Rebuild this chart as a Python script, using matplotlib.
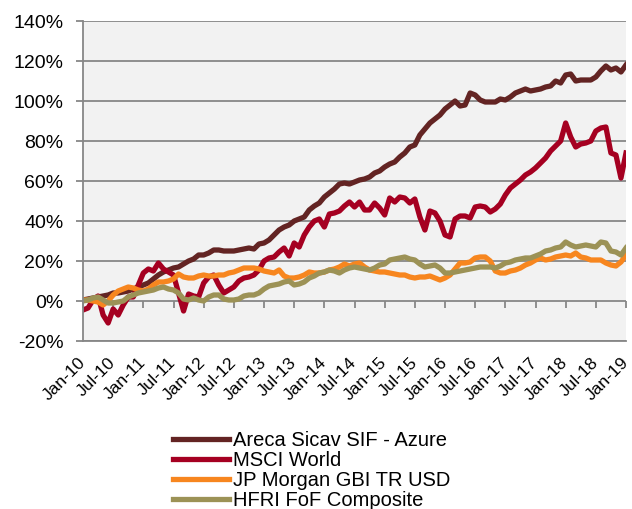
import matplotlib
matplotlib.use("Agg")
import matplotlib.pyplot as plt
from matplotlib.ticker import MultipleLocator, FuncFormatter

# monthly cumulative performance, Jan-10 .. Jan-19 (%)
areca = [0.5, 1, 1.5, 2, 2.5, 3, 4, 4, 4.5, 5, 6, 7,
         8, 9, 11, 13, 14.5, 15.5, 16.5, 17, 18.5, 20, 21, 23,
         23, 24, 25.5, 25.5, 25, 25, 25, 25.5, 26, 26.5, 26, 28.5,
         29, 30.5, 33, 35.5, 37, 38, 40, 41, 42, 45.5, 47.5, 49,
         52, 54, 56, 58.5, 59, 58.5, 59.5, 60.5, 61, 62, 64, 65,
         67, 68.5, 69.5, 72, 74, 77, 78, 83, 86, 89, 91, 93,
         96, 98, 100, 97.5, 98, 104, 103, 100.5, 99.5, 99.5, 99.5, 101,
         100.5, 102, 104, 105, 106, 105, 105.5, 106, 107, 107.5, 110, 109,
         113, 113.5, 110, 110.5, 110.5, 110.5, 112, 115, 117.5, 115.5, 116.5, 114.5,
         118]
msci = [-4.5, -3.5, 0.5, 2.5, -7, -11, -4, -7, -2, 2, 2, 8,
        14, 16, 15, 19, 16, 14.5, 13, 4, -5, 3.5, 2.5, 2,
        9, 12, 13, 8, 4, 5.5, 7, 10, 11.5, 12, 13, 15.5,
        20, 21.5, 22, 24.5, 26.5, 22.5, 29, 27, 33, 37, 40, 41,
        37, 43.5, 44, 45, 47.5, 49.5, 47, 49.5, 45.5, 45.5, 49, 46.5,
        43, 51.5, 49.5, 52, 51.5, 49, 51, 42, 35.5, 45, 44, 40,
        33, 32, 41, 42.5, 42.5, 41.5, 47, 47.5, 47, 44.5, 46, 48.5,
        53, 56.5, 58.5, 60.5, 63, 64.5, 66.5, 69, 71.5, 75, 77.5, 80,
        89, 82, 77, 78.5, 79, 80, 85, 86.5, 87, 74, 73, 61.5,
        74]
jpm = [0.5, 0.5, 0, -0.5, -2, 0, 3, 5, 6, 7, 6.5, 5.5,
       5, 6, 8, 9.5, 9.5, 10, 11, 13.5, 12, 11.5, 11.5, 12.5,
       13, 12.5, 12.5, 13, 13, 14, 14.5, 15.5, 16.5, 16.5, 16.5, 16,
       15, 14.5, 14, 15.5, 12.5, 11.5, 11.5, 12, 13, 14.5, 14, 14,
       14.5, 15.5, 16, 17, 18.5, 17.5, 18.5, 19, 17, 15.5, 15, 14.5,
       14.5, 14, 13.5, 13, 13, 12, 11.5, 12, 12, 12.5, 11.5, 10.5,
       11.5, 13, 16, 19, 19, 19.5, 21.5, 22, 22, 20, 15, 14,
       14, 15, 15.5, 16.5, 18, 19, 20.5, 21.5, 20.5, 21, 22, 22.5,
       23, 22.5, 24, 22, 21.5, 20.5, 20.5, 20.5, 19, 18, 17.5, 19.5,
       23]
hfri = [0, 0.5, 1.5, 2, 0.5, -1, -1, -0.5, 0, 2, 3, 4,
        4.5, 5, 5.5, 6.5, 7, 6, 5.5, 4, 1, 0.5, 1.5, 0.5,
        0, 2, 3, 3, 1, 0.5, 0.5, 1, 2.5, 3, 3, 4,
        6, 7.5, 8, 8.5, 9.5, 10, 8, 8.5, 9.5, 11.5, 12.5, 14,
        14.5, 15.5, 15, 14, 15.5, 16.5, 17, 16.5, 16, 15.5, 16.5, 18,
        18.5, 20.5, 21, 21.5, 22, 21, 20.5, 18.5, 17, 17.5, 18, 16.5,
        14, 14, 14.5, 15, 15.5, 16, 16.5, 17, 17, 17, 16.5, 17.5,
        19, 19.5, 20.5, 21, 21.5, 21.5, 22.5, 23.5, 25, 25.5, 26.5, 27,
        29.5, 28, 27, 27.5, 28, 27.5, 27, 29.5, 29, 25, 24.5, 23,
        26.5]

tick_labels = ["Jan-10", "Jul-10", "Jan-11", "Jul-11", "Jan-12", "Jul-12",
               "Jan-13", "Jul-13", "Jan-14", "Jul-14", "Jan-15", "Jul-15",
               "Jan-16", "Jul-16", "Jan-17", "Jul-17", "Jan-18", "Jul-18", "Jan-19"]

names = ["Areca Sicav SIF - Azure", "MSCI World", "JP Morgan GBI TR USD", "HFRI FoF Composite"]
colors = ["#632423", "#a50021", "#f7861f", "#9c9256"]

plt.rcParams['font.family'] = ['Liberation Sans', 'DejaVu Sans']

fig = plt.figure(figsize=(6.32, 5.09), dpi=100)
ax = fig.add_axes([83 / 632, 1 - 341 / 509, 543 / 632, 320 / 509])
ax.set_facecolor("#f2f2f2")

months = list(range(len(areca)))
for series, name, col in zip([areca, msci, jpm, hfri], names, colors):
    ax.plot(months, series, color=col, lw=3.8, label=name, solid_joinstyle="round")

ax.set_ylim(-20, 140)
ax.set_xlim(0, 108)
ax.yaxis.set_major_locator(MultipleLocator(20))
ax.yaxis.set_major_formatter(FuncFormatter(lambda v, p: f"{v:.0f}%"))
ax.grid(axis="y", color="#878787", lw=1.3)
ax.set_axisbelow(True)

for s in ["top", "right"]:
    ax.spines[s].set_visible(False)
for s in ["left", "bottom"]:
    ax.spines[s].set_color("#878787")
    ax.spines[s].set_linewidth(1.3)

ax.tick_params(axis="y", length=5, width=1.3, color="#878787", labelsize=14, pad=9)

tick_pos = list(range(0, 109, 6))
ax.set_xticks(tick_pos)
ax.set_xticklabels(tick_labels, rotation=45, ha="right", va="center",
                   rotation_mode="anchor", fontsize=12.5)
ax.tick_params(axis="x", length=0, pad=14)

# tick marks sit on the 0% line
sec = ax.secondary_xaxis(0.125)
sec.set_xticks(tick_pos)
sec.set_xticklabels([])
sec.spines["bottom"].set_visible(False)
sec.tick_params(axis="x", length=5, width=1.3, color="#878787")

fig.legend(loc="upper left", bbox_to_anchor=(165 / 632, 1 - 423 / 509), frameon=False,
           prop={"size": 14.5},
           handlelength=2.8, handletextpad=0.2, labelspacing=0.05, borderaxespad=0)

fig.savefig("out.png", dpi=100, facecolor="white")
